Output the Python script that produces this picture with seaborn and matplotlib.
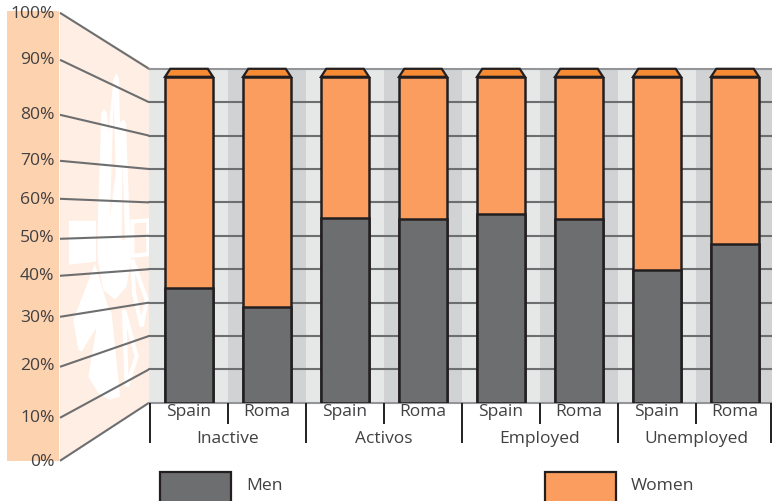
import matplotlib
matplotlib.use("Agg")
import matplotlib.pyplot as plt
from matplotlib.patches import Polygon, Rectangle
import pandas as pd
import seaborn as sns

groups = ["Inactive", "Activos", "Employed", "Unemployed"]
populations = ["Spain", "Roma"]
men = [35.3, 29.4, 56.6, 56.3, 58.0, 56.3, 40.8, 48.8]
women = [64.7, 70.6, 43.4, 43.7, 42.0, 43.7, 59.2, 51.2]
scale_labels = ["0%", "10%", "20%", "30%", "40%", "50%", "60%", "70%", "80%", "90%", "100%"]
scale_label_y = [461, 417, 365, 317, 275, 237, 199, 160, 114, 59, 13]
scale_line_y = [461, 418, 367, 317, 276, 239, 199, 161, 115, 60, 13]

GREY = "#6d6e70"
ORANGE = "#fa9d5e"
CAP = "#f68b33"
DARK = "#231f20"
TEXT = "#414042"
W, H = 772, 502

sns.set_theme(style="white")
plt.rcParams["font.family"] = ["Open Sans", "DejaVu Sans"]

df = pd.DataFrame({
    "pos": [f"{g} {p}" for g in groups for p in populations],
    "men": men,
    "total": [m + w for m, w in zip(men, women)],
})

fig = plt.figure(figsize=(W / 100, H / 100), dpi=100)


def box(left, top, right, bottom):
    return [left / W, 1 - (bottom + 0.8) / H, (right - left) / W, (bottom - top) / H]


# Full-figure layer for the decorated side panel, legend and leader lines
page = fig.add_axes([0, 0, 1, 1], zorder=0)
page.set_xlim(0, W)
page.set_ylim(H - 0.8, -0.8)
page.axis("off")
page.add_patch(Rectangle((7, 11), 52, 450, fc="#fdd2ae", ec="none"))
page.add_patch(Polygon([(60, 12), (149, 67), (149, 403), (60, 461)], fc="#ffeee3", ec="none"))


def crop(points):
    return [(55 + x / 3, 60 + y / 3) for x, y in points]


logo_solid = [
    [(42, 483), (123, 483), (123, 605), (42, 615)],
    [(128, 500), (139, 160), (147, 148), (156, 160), (160, 220), (175, 60), (185, 40),
     (192, 60), (195, 190), (205, 178), (213, 190), (228, 600), (215, 680), (180, 720),
     (145, 690), (128, 600)],
    [(120, 612), (160, 745), (80, 875), (70, 870), (55, 780)],
    [(140, 715), (170, 760), (195, 1010), (165, 1020), (130, 1000), (100, 950), (125, 800)],
]
for shape in logo_solid:
    page.add_patch(Polygon(crop(shape), fc="white", ec="none"))
page.add_patch(Polygon(crop([(165, 470), (176, 120), (182, 340)]), fc="#ffeee3", ec="none"))
page.add_patch(Polygon(crop([(200, 540), (203, 300), (210, 540)]), fc="#ffeee3", ec="none"))
logo_outline = [
    [(232, 485), (280, 482), (280, 583), (232, 588)],
    [(232, 600), (275, 720), (260, 800), (237, 700)],
    [(207, 750), (245, 890), (215, 980)],
]
for shape in logo_outline:
    page.add_patch(Polygon(crop(shape), fc="none", ec="white", lw=3))

for i, (label, ly, sy) in enumerate(zip(scale_labels, scale_label_y, scale_line_y)):
    page.plot([60, 149], [sy, 403 - 33.4 * i], color=GREY, lw=1.5, solid_capstyle="butt")
    page.text(54.5, ly, label, ha="right", va="center", fontsize=12.6, color=TEXT)

for x, colour, label, tx in [(160, GREY, "Men", 246), (545, ORANGE, "Women", 631)]:
    page.add_patch(Rectangle((x, 472), 71, 32, fc=colour, ec=DARK, lw=1.6))
    page.text(tx, 485, label, ha="left", va="center", fontsize=12.6, color=TEXT)

# Back wall: alternating stripes and percentage grid
wall = fig.add_axes(box(149, 69, 772, 403), zorder=1)
XLIM = (-0.513, 7.474)
wall.set_xlim(*XLIM)
wall.set_ylim(0, 100)
edges = [XLIM[0], 0.5, 1.5, 2.5, 3.5, 4.5, 5.5, 6.5, XLIM[1]]
for i in range(len(edges) - 1):
    wall.axvspan(edges[i], edges[i + 1], color="#e6e8e8" if i % 2 == 0 else "#d1d2d4", lw=0)
wall.set_yticks(range(0, 101, 10))
wall.grid(True, axis="y", color=GREY, lw=1.5)
wall.set_axisbelow(False)
wall.set_xticks([])
wall.tick_params(labelleft=False, left=False)
for gl in wall.get_ygridlines():
    gl.set_clip_on(False)
wall.get_ygridlines()[-1].set_color("#939598")
wall.get_ygridlines()[0].set_color("#939598")
sns.despine(ax=wall, left=True, bottom=True, top=True, right=True)

# Front bars
ax = fig.add_axes(box(149, 77, 772, 403), zorder=2)
ax.patch.set_alpha(0)
bar_width = 48 / 78
sns.barplot(data=df, x="pos", y="total", color=ORANGE, saturation=1, width=bar_width,
            edgecolor=DARK, linewidth=1.8, ax=ax, zorder=3)
sns.barplot(data=df, x="pos", y="men", color=GREY, saturation=1, width=bar_width,
            edgecolor=DARK, linewidth=1.8, ax=ax, zorder=4)
ax.set_xlim(*XLIM)
ax.set_ylim(0, 100)
ax.set_xlabel("")
ax.set_ylabel("")
ax.set_yticks([])
ax.set_xticks(range(len(men)))
ax.set_xticklabels(populations * len(groups), fontsize=12.5, color=TEXT)
ax.tick_params(axis="x", length=0, pad=0.5)
sns.despine(ax=ax, left=True, bottom=True, top=True, right=True)

# Bar caps: built from the bars themselves
for bar in ax.patches[:len(men)]:
    x0, wd, top = bar.get_x(), bar.get_width(), bar.get_height()
    inset = wd * 0.11
    rise = 100 * 8 / 326
    ax.add_patch(Polygon([(x0, top), (x0 + inset, top + rise), (x0 + wd - inset, top + rise),
                          (x0 + wd, top)], fc=CAP, ec=DARK, lw=1.6, clip_on=False, zorder=5))

# Category separators and group names
trans = ax.get_xaxis_transform()
seps = [i - 0.5 for i in range(8)] + [7.46]
for i, s in enumerate(seps):
    depth = -40 / 326 if i % 2 == 0 else -21 / 326
    ax.plot([s, s], [0, depth], transform=trans, color=DARK, lw=1.4, clip_on=False,
            solid_capstyle="butt")
for i, g in enumerate(groups):
    ax.text(2 * i + 0.5, -35.5 / 326, g, transform=trans, ha="center", va="center",
            fontsize=12.5, color=TEXT)

fig.savefig("out.png", dpi=100)
